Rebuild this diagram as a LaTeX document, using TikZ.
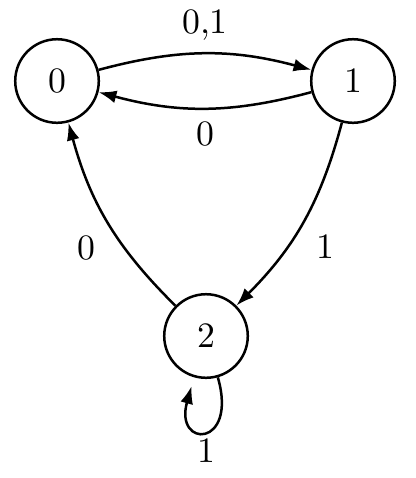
\documentclass[tikz,border=0pt]{standalone}
\usetikzlibrary{arrows.meta}
\begin{document}
\begin{tikzpicture}[x=0.28pt,y=-0.28pt,
  statenode/.style={circle,draw,line width=0.7pt,minimum size=23.4pt,inner sep=0pt},
  conn/.style={line width=0.7pt,-{Latex[length=5pt,width=3.6pt]}},
  lbl/.style={auto,inner sep=3.3pt}]
\useasboundingbox (0,0) rectangle (415,478);
\node[statenode] (s0) at (57,81) {0};
\node[statenode] (s1) at (353,81) {1};
\node[statenode] (s2) at (206,336) {2};
\draw[conn] (s0) to[bend left=15] node[lbl] {0,1} (s1);
\draw[conn] (s1) to[bend left=15] node[lbl] {0} (s0);
\draw[conn] (s1) to[bend left=15] node[lbl] {1} (s2);
\draw[conn] (s2) to[bend left=15] node[lbl] {0} (s0);
\draw[conn,shorten >=2.5pt] (s2) to[out=-74,in=-106,looseness=8,min distance=14pt] node[lbl,inner sep=2pt] {1} (s2);
\end{tikzpicture}
\end{document}
